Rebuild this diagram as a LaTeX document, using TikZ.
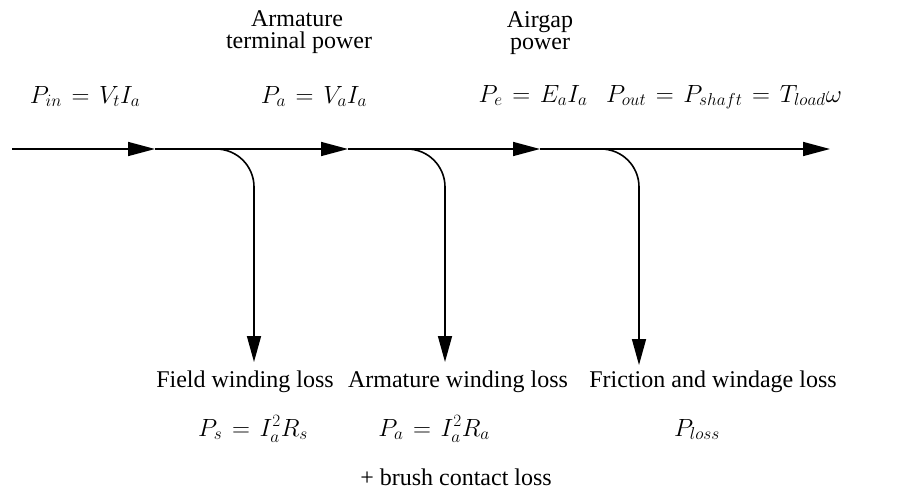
\documentclass[tikz,border=0pt]{standalone}
\usepackage{fontspec}
\setmainfont{Liberation Serif}
\DeclareMathSizes{26}{26}{16}{12}
\thickmuskip=7mu plus 2mu\relax
\usetikzlibrary{arrows.meta}
\begin{document}
\begin{tikzpicture}[x=1pt,y=-1pt,
  flow/.style={line width=1.6pt,-{Triangle[length=27pt,width=14pt]}},
  branch/.style={line width=1.6pt,rounded corners=38pt,-{Triangle[length=26pt,width=14pt]}},
  lbl/.style={inner sep=0pt,anchor=base,font=\fontsize{24}{28}\selectfont},
  eq/.style={inner sep=0pt,anchor=base,font=\fontsize{26}{30}\selectfont}]
\useasboundingbox (0,0) rectangle (910,491);
% main line points
\coordinate (s) at (12,149);
\coordinate (j1) at (155,149);
\coordinate (j2) at (348,149);
\coordinate (j3) at (540,149);
\coordinate (e) at (830,149);
\coordinate (b1) at (200,149);
\coordinate (b2) at (390,149);
\coordinate (b3) at (585,149);
\coordinate (t1) at (254,362);
\coordinate (t2) at (445,362);
\coordinate (t3) at (639,365);
\draw[flow] (s) -- (j1);
\draw[flow] (j1) -- (j2);
\draw[flow] (j2) -- (j3);
\draw[flow] (j3) -- (e);
\draw[branch] (b1) -| (t1);
\draw[branch] (b2) -| (t2);
\draw[branch] (b3) -| (t3);
% top labels
\node[lbl] (arm1) at (297,26) {Armature};
\node[lbl] (arm2) at (299,48) {terminal power};
\node[lbl] (air1) at (540,27) {Airgap};
\node[lbl] (air2) at (540,49) {power};
\node[eq] (pin) at (85,103) {$P_{in}=V_tI_a$};
\node[eq] (pa) at (314,103) {$P_a=V_aI_a$};
\node[eq] (pe) at (533,102) {$P_e=E_aI_a$};
\node[eq] (pout) at (724,102) {$P_{out}=P_{shaft}=T_{load}\omega$};
% bottom labels
\node[lbl] (fw) at (245,387) {Field winding loss};
\node[lbl] (aw) at (458,387) {Armature winding loss};
\node[lbl] (fr) at (713,387) {Friction and windage loss};
\node[eq] (ps) at (253,436) {$P_s=I^2_aR_s$};
\node[eq] (pa2) at (434,436) {$P_a=I^2_aR_a$};
\node[eq] (pl) at (697,436) {$P_{loss}$};
\node[lbl] (br) at (456,485) {+ brush contact loss};
\end{tikzpicture}
\end{document}
